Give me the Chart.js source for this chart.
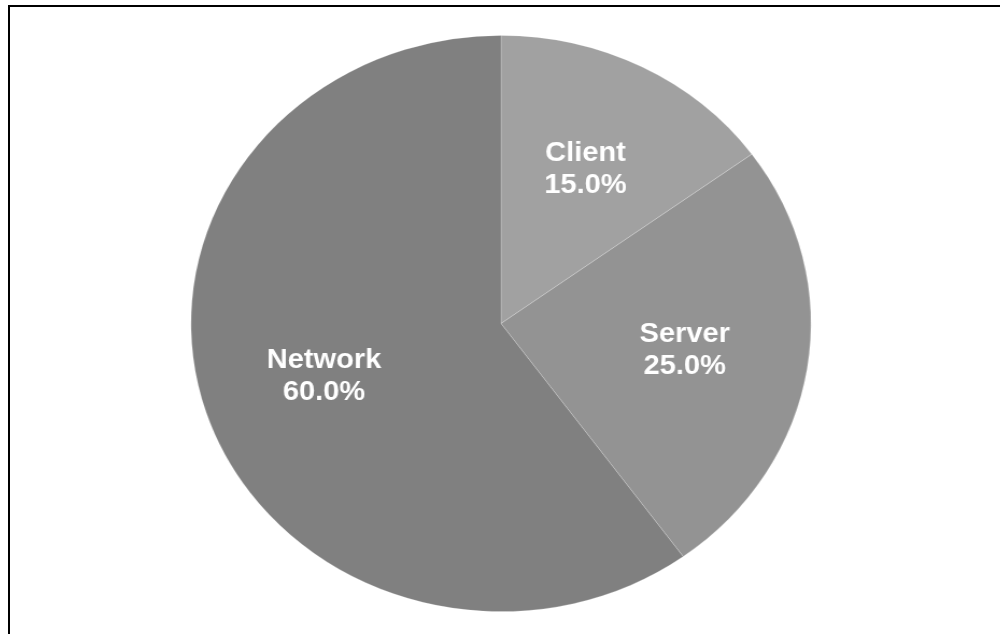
<!DOCTYPE html>
<html>
<head>
<meta charset="utf-8">
<script src="https://cdn.jsdelivr.net/npm/chart.js@4"></script>
<style>
    html, body {
        margin: 0;
        padding: 0;
        width: 1000px;
        height: 634px;
        overflow: hidden;
        background: #ffffff;
    }
    .frame {
        position: absolute;
        left: 8px;
        top: 5px;
        width: 2000px;
        height: 2000px;
        border-top: 2px solid #000;
        border-left: 2px solid #000;
    }
    .chart-wrap {
        position: absolute;
        left: 0;
        top: 0;
        width: 1000px;
        height: 634px;
        transform: scaleX(1.076);
        transform-origin: 501px 0;
    }
</style>
</head>
<body>
<div class="frame"></div>
<div class="chart-wrap">
    <canvas id="shareChart"></canvas>
</div>
<script>
// Share of delay per component
const categories = ['Client', 'Server', 'Network'];
const shares = [15, 25, 60];
const sliceColors = ['#a1a1a1', '#939393', '#808080'];

// Two-line label (name + percent) inside each slice
const sliceLabels = {
    id: 'sliceLabels',
    afterDatasetsDraw(chart) {
        const ctx = chart.ctx;
        const meta = chart.getDatasetMeta(0);
        const total = shares.reduce((a, b) => a + b, 0);
        ctx.save();
        ctx.fillStyle = '#ffffff';
        ctx.font = "bold 27px 'Liberation Sans', Arial, sans-serif";
        ctx.textAlign = 'center';
        ctx.textBaseline = 'middle';
        meta.data.forEach((arc, i) => {
            const p = arc.getProps(['x', 'y', 'startAngle', 'endAngle', 'outerRadius'], true);
            const mid = (p.startAngle + p.endAngle) / 2;
            const r = p.outerRadius * 0.6;
            const cx = p.x + Math.cos(mid) * r;
            const cy = p.y + Math.sin(mid) * r;
            const pct = (shares[i] / total * 100).toFixed(1) + '%';
            ctx.fillText(categories[i], cx, cy - 16);
            ctx.fillText(pct, cx, cy + 16);
        });
        ctx.restore();
    }
};

new Chart(document.getElementById('shareChart'), {
    type: 'pie',
    data: {
        labels: categories,
        datasets: [{
            data: shares,
            backgroundColor: sliceColors,
            borderColor: 'rgba(255, 255, 255, 0.25)',
            borderWidth: 0.8
        }]
    },
    options: {
        responsive: true,
        maintainAspectRatio: false,
        animation: false,
        layout: {
            padding: { top: 35, bottom: 22, left: 2, right: 0 }
        },
        plugins: {
            legend: { display: false },
            tooltip: { enabled: false }
        }
    },
    plugins: [sliceLabels]
});
</script>
</body>
</html>
